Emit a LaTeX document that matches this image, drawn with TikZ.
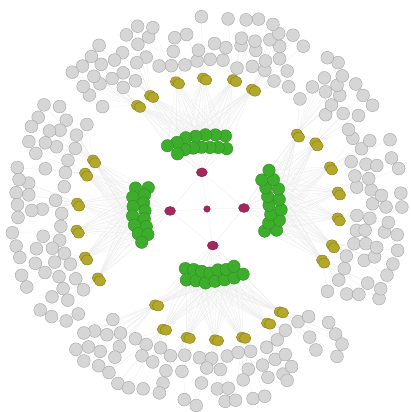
\documentclass[tikz,border=0pt]{standalone}
\usepackage{xcolor}
\usepackage{tikz}
\usetikzlibrary{shapes.geometric, positioning, calc}
\definecolor{hubc}{HTML}{A3285E}
\definecolor{clusterc}{HTML}{3DAE2B}
\definecolor{branchc}{HTML}{B3A82A}
\definecolor{leafc}{HTML}{D6D6D6}
\pgfdeclarelayer{links}
\pgfsetlayers{links,main}

\begin{document}
\begin{tikzpicture}[x=0.025cm, y=0.025cm,
  link/.style={draw=black!8, line width=0.2pt},
  rootnode/.style={circle, fill=hubc, draw=hubc!85!black, minimum size=0.16cm, inner sep=0pt},
  hubnode/.style={ellipse, fill=hubc, draw=hubc!85!black, minimum width=0.27cm, minimum height=0.22cm, inner sep=0pt},
  clusternode/.style={circle, fill=clusterc, draw=clusterc!80!black, line width=0.3pt, minimum size=0.31cm, inner sep=0pt},
  branchnode/.style={ellipse, fill=branchc, draw=branchc!75!black, line width=0.3pt, minimum width=0.29cm, minimum height=0.25cm, inner sep=0pt},
  leafnode/.style={circle, fill=leafc, draw=black!35, line width=0.3pt, minimum size=0.32cm, inner sep=0pt}]
  \useasboundingbox (-207,-203) rectangle (203,209);
  \pgfmathsetseed{11}

  % Root and hubs
  \node[rootnode] (root) at (0,0) {};
  \foreach \grp/\a in {T/98, L/183, R/1.5, B/279}
    \node[hubnode] (h-\grp) at (\a:37) {};

  % Clusters
  \foreach \grp/\ga/\gb in {T/72/122, L/160/207, R/-21/32, B/250/299}
    \foreach \i in {0,...,13} {
      \pgfmathsetmacro\t{\ga+\i*(\gb-\ga)/13}
      \pgfmathsetmacro\rr{63+11*mod(\i,2)+3*(rnd-0.5)}
      \node[clusternode] (c-\grp-\i) at (\t:\rr) {};
    }

  % Branches (pairs)
  \foreach \a/\r [count=\k from 0] in {69.4/128, 78.6/132, 91.7/131, 103.7/131, 116.6/127, 124/125} {
    \node[branchnode] (b-T-\k) at (\a:\r) {};
    \node[branchnode] (p-T-\k) at ([shift={(3,-2)}]b-T-\k) {};
  }
  \foreach \a/\r [count=\k from 0] in {156.7/124, 163.6/127, 177.4/130, 189.2/132, 201.5/131, 212.3/129} {
    \node[branchnode] (b-L-\k) at (\a:\r) {};
    \node[branchnode] (p-L-\k) at ([shift={(2,-3)}]b-L-\k) {};
  }
  \foreach \a/\r [count=\k from 0] in {-23.9/126, -16/130, -3.9/131, 7.4/132, 18.9/130, 31.4/127, 39.8/117} {
    \node[branchnode] (b-R-\k) at (\a:\r) {};
    \node[branchnode] (p-R-\k) at ([shift={(2,-3)}]b-R-\k) {};
  }
  \foreach \a/\r [count=\k from 0] in {241.6/109, 249.9/128, 261/130, 273.5/131, 285.3/133, 297.8/129, 305.3/126} {
    \node[branchnode] (b-B-\k) at (\a:\r) {};
    \node[branchnode] (p-B-\k) at ([shift={(3,-1)}]b-B-\k) {};
  }

  % Leaves
  \pgfmathsetseed{23}
  \foreach \grp/\sa/\sb/\no in {T/57/138/6, L/145/222/6, R/-34/52/7, B/225/318/7}
    \foreach \ri in {0,...,3} {
      \pgfmathsetmacro\rr{148+15*\ri}
      \pgfmathsetmacro\st{13.5*57.3/\rr}
      \pgfmathtruncatemacro\n{(\sb-\sa)/\st}
      \foreach \i in {0,...,\n} {
        \pgfmathsetmacro\t{\sa+(\i+0.5*mod(\ri,2))*\st+1.5*(rnd-0.5)}
        \pgfmathsetmacro\rj{\rr+8*(rnd-0.5)}
        \pgfmathtruncatemacro\ok{and(\t<\sb+0.01, rnd>0.22)}
        \ifnum\ok=1
          \node[leafnode] (l-\grp-\ri-\i) at (\t:\rj) {};
        \fi
      }
    }

  % Links (same seed again, so the same leaves exist)
  \begin{pgfonlayer}{links}
    \foreach \grp in {T,L,R,B} \draw[link] (root) -- (h-\grp);
    \draw[link] (h-L) -- (h-T) -- (h-R) -- (h-B) -- (h-L);
    \foreach \grp/\nb in {T/5, L/5, R/6, B/6}
      \foreach \i in {0,...,13} {
        \draw[link] (h-\grp) -- (c-\grp-\i);
        \foreach \k in {0,...,\nb}
          \draw[link] (c-\grp-\i) -- (b-\grp-\k);
      }
    \pgfmathsetseed{23}
    \foreach \grp/\sa/\sb/\no in {T/57/138/6, L/145/222/6, R/-34/52/7, B/225/318/7}
      \foreach \ri in {0,...,3} {
        \pgfmathsetmacro\rr{148+15*\ri}
        \pgfmathsetmacro\st{13.5*57.3/\rr}
        \pgfmathtruncatemacro\n{(\sb-\sa)/\st}
        \foreach \i in {0,...,\n} {
          \pgfmathsetmacro\t{\sa+(\i+0.5*mod(\ri,2))*\st+1.5*(rnd-0.5)}
          \pgfmathsetmacro\rj{\rr+8*(rnd-0.5)}
          \pgfmathtruncatemacro\ok{and(\t<\sb+0.01, rnd>0.22)}
          \ifnum\ok=1
            \pgfmathtruncatemacro\k{min(\no-1,max(0,floor((\t-\sa)/(\sb-\sa)*\no)))}
            \draw[link] (b-\grp-\k) -- (l-\grp-\ri-\i);
          \fi
        }
      }
  \end{pgfonlayer}
\end{tikzpicture}
\end{document}
